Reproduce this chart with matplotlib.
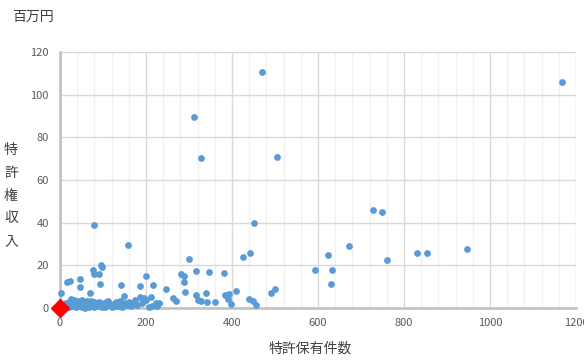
import matplotlib
matplotlib.use("Agg")
import matplotlib.pyplot as plt
from matplotlib.ticker import MultipleLocator

plt.rcParams['font.family'] = ['Noto Sans CJK JP', 'DejaVu Sans']

# patents held vs patent income (million yen)
patents = [470, 1167, 312, 328, 505, 748, 728, 450, 80, 158, 671, 947, 831, 854,
           442, 624, 425, 761, 300, 95, 97, 76, 79, 91, 593, 633, 630, 316, 347,
           381, 281, 289, 201, 46, 46, 23, 16, 93, 141, 185, 217, 288, 246, 291,
           3, 70, 340, 409, 491, 499, 316, 384, 394, 390, 398, 322, 343, 361, 440,
           448, 455, 262, 270, 149, 186, 195, 211, 208, 223, 226, 327,
           # dense low cluster
           8, 12, 15, 18, 20, 22, 25, 28, 30, 32, 35, 38, 40, 42, 45, 48, 50,
           52, 55, 58, 60, 63, 65, 68, 70, 72, 75, 78, 80, 84, 88, 90, 95, 100,
           104, 108, 112, 116, 120, 125, 130, 135, 140, 145, 150, 155, 160, 165,
           170, 175, 180, 190, 200, 215, 230, 26, 36, 56, 66, 86, 98, 110, 128]
income = [110.5, 106, 89.5, 70.5, 71, 45, 46, 40, 39, 29.5, 29.2, 27.7, 26, 26,
          26, 25, 24, 22.5, 22.8, 20.2, 19.3, 17.8, 16, 16, 17.7, 17.8, 11.1, 17.5, 17,
          16.2, 15.8, 15.1, 15.2, 13.6, 10, 12.8, 12.3, 11.2, 10.8, 10.3, 11, 12, 8.8, 7.6,
          7, 7, 7.2, 8.1, 6.9, 8.9, 6, 6.3, 6.5, 4, 2, 3.6, 2.8, 2.8, 4,
          3.2, 1.6, 4.5, 3.4, 5.6, 5.3, 4.8, 5.2, 0.4, 2.2, 0.8, 3.3,
          # dense low cluster
          1.2, 0.5, 2.5, 1.0, 3.0, 0.3, 1.8, 2.8, 0.8, 3.6, 1.5, 0.4, 2.2, 3.4, 1.0, 2.6, 0.6,
          3.8, 1.4, 0.2, 2.4, 3.2, 1.0, 0.5, 2.0, 3.5, 1.2, 0.3, 2.8, 1.6, 0.8, 3.0, 2.2, 1.0,
          0.4, 2.6, 3.2, 1.4, 0.6, 2.0, 2.8, 1.0, 3.4, 0.5, 2.4, 1.2, 3.0, 0.8,
          2.0, 3.6, 1.5, 2.5, 3.8, 1.0, 2.2, 4.2, 3.0, 0.6, 2.0, 1.6, 0.3, 2.4, 0.9]
origin_x = [0]
origin_y = [0]

fig = plt.figure(figsize=(5.84, 3.61), dpi=100)
ax = fig.add_axes([60 / 584, 1 - 308 / 361, 516 / 584, 256 / 361])

ax.scatter(patents, income, s=24, color='#5B9BD5', linewidths=0, zorder=3, clip_on=False)
ax.plot(origin_x, origin_y, marker='D', markersize=9, color='#FF0000', linestyle='none',
        zorder=4, clip_on=False)

ax.set_xlim(0, 1200)
ax.set_ylim(0, 120)
ax.xaxis.set_major_locator(MultipleLocator(200))
ax.xaxis.set_minor_locator(MultipleLocator(40))
ax.yaxis.set_major_locator(MultipleLocator(20))
ax.grid(which='major', axis='both', color='#D9D9D9', linewidth=1, zorder=0)
ax.grid(which='minor', axis='x', color='#F0F0F0', linewidth=1, zorder=0)
ax.set_axisbelow(True)

for side in ['top', 'right']:
    ax.spines[side].set_visible(False)
for side in ['left', 'bottom']:
    ax.spines[side].set_color('#BFBFBF')
    ax.spines[side].set_linewidth(1.8)

ax.tick_params(which='both', length=0, labelsize=8, labelcolor='#595959')
ax.tick_params(axis='x', pad=7)
ax.tick_params(axis='y', pad=8)

fig.text(12 / 584, 1 - 17 / 361, '百万円', fontsize=10, color='#404040', va='center', ha='left')
fig.text(310 / 584, 1 - 349 / 361, '特許保有件数', fontsize=10, color='#404040', ha='center', va='center')
for i, ch in enumerate('特許権収入'):
    fig.text(11 / 584, 1 - (150 + i * 22.8) / 361, ch, fontsize=10, color='#404040',
             ha='center', va='center')

fig.savefig('out.png', dpi=100)
